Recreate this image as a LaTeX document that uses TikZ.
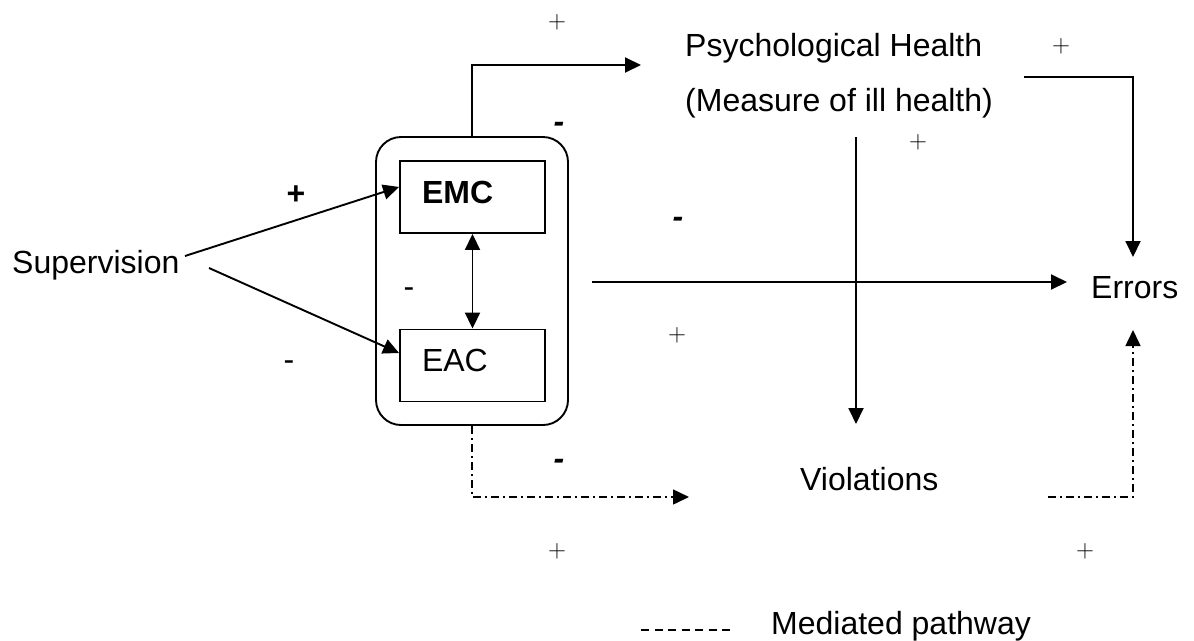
\documentclass[tikz,border=0pt]{standalone}
\usepackage{fontspec}
\setmainfont{Liberation Sans}
\usetikzlibrary{arrows.meta}

\begin{document}
\begin{tikzpicture}[x=1pt,y=-1pt,
  every node/.style={inner sep=0pt, font=\fontsize{32}{38}\selectfont},
  tip/.tip={Triangle[length=16pt,width=15pt]},
  link/.style={line width=1.9pt},
  conn/.style={link, -tip},
  mediated/.style={line width=1.5pt, dash pattern=on 8pt off 4pt on 2pt off 4pt, -tip},
  legendline/.style={line width=1.3pt, dash pattern=on 8pt off 5.5pt},
  stagebox/.style={draw, line width=1.9pt, minimum width=145pt, minimum height=72pt,
    text width=101pt, inner xsep=22pt, inner ysep=12pt,
    text height=30pt, text depth=18pt, align=left},
  groupbox/.style={draw, line width=1.9pt, rounded corners=25pt,
    minimum width=192pt, minimum height=288pt},
  thinplus/.style={font=\fontsize{26}{30}\selectfont},
  boldsign/.style={anchor=base, font=\fontsize{32}{38}\selectfont\bfseries},
  heavydash/.style={anchor=base, font=\fontsize{32}{38}\selectfont\bfseries\itshape},
  lightdash/.style={anchor=base, font=\fontsize{32}{38}\selectfont},
]
\path[fill=white] (0,0) rectangle (1194,639);

% variables
\node[anchor=base west] (sup) at (12,273) {Supervision};
\node[groupbox] (grp) at (472,281) {};
\node[stagebox] (emc) at (472.5,197) {\bfseries EMC};
\node[stagebox] (eac) at (472.5,365.5) {EAC};
\node[anchor=north west, align=left, font=\fontsize{32}{55}\selectfont] (ph) at (685,33)
  {Psychological Health\\(Measure of ill health)};
\node[anchor=base west] (err) at (1091,298) {Errors};
\node[anchor=base west] (viol) at (800,490) {Violations};

% free connector ends
\coordinate (supA) at (185,256);
\coordinate (supB) at (209,268);
\coordinate (phIn) at (641,65);
\coordinate (phOut) at (1024,77);
\coordinate (errTop) at (1133,257);
\coordinate (hzA) at (592,282);
\coordinate (hzB) at (1067,282);
\coordinate (phDown) at (856,137);
\coordinate (violIn) at (856,424);
\coordinate (medA) at (689,497);
\coordinate (medB) at (1048,497);
\coordinate (errUp) at (1133,330);

% direct paths
\draw[conn] (supA) -- ([yshift=10pt]emc.west);
\draw[conn] (supB) -- ([yshift=12.5pt]eac.west);
\draw[link, tip-tip] (emc.south) -- (eac.north);
\draw[conn] (grp.north) |- (phIn);
\draw[conn] (phOut) -| (errTop);
\draw[conn] (hzA) -- (hzB);
\draw[conn] (phDown) -- (violIn);

% mediated paths
\draw[mediated] (grp.south) |- (medA);
\draw[mediated] (medB) -| (errUp);

% signs
\node[thinplus] (p1) at (557,22) {$+$};
\node[thinplus] (p2) at (1061,46) {$+$};
\node[thinplus] (p3) at (918,142) {$+$};
\node[thinplus] (p4) at (677,335) {$+$};
\node[thinplus] (p5) at (557,551) {$+$};
\node[thinplus] (p6) at (1085,551) {$+$};
\node[boldsign] (b1) at (296,204) {+};
\node[heavydash] (d1) at (559,132) {-};
\node[heavydash] (d2) at (678,227) {-};
\node[heavydash] (d3) at (559,469) {-};
\node[lightdash] (m1) at (409,297) {-};
\node[lightdash] (m2) at (289,370) {-};

% legend
\coordinate (lgA) at (641,630);
\coordinate (lgB) at (732,630);
\draw[legendline] (lgA) -- (lgB);
\node[anchor=base west] (lgt) at (771,634) {Mediated pathway};
\end{tikzpicture}
\end{document}
